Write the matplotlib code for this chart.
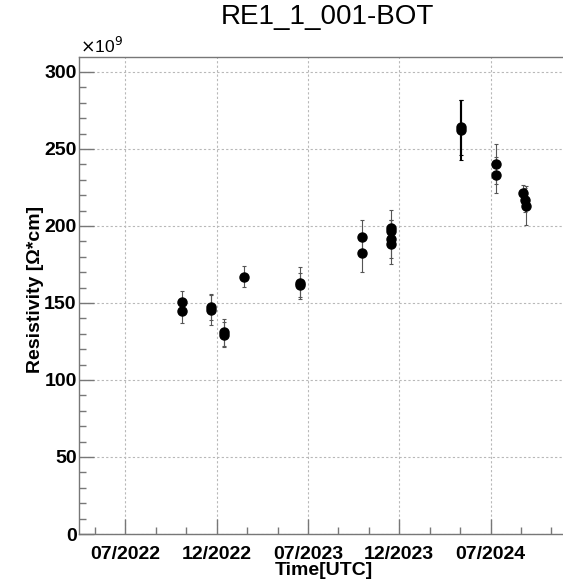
import matplotlib
matplotlib.use("Agg")
import matplotlib.pyplot as plt
import matplotlib.dates as mdates
import numpy as np
import pandas as pd

# measurement dates, resistivity [x1e9 Ohm*cm] and errors
dates = ["2022-10-24", "2022-10-24",
         "2022-12-19", "2022-12-19",
         "2023-01-15", "2023-01-15",
         "2023-02-24",
         "2023-06-16", "2023-06-16",
         "2023-10-18", "2023-10-18",
         "2023-12-14", "2023-12-14", "2023-12-14", "2023-12-14",
         "2024-05-02", "2024-05-02",
         "2024-07-11", "2024-07-11",
         "2024-09-03", "2024-09-07", "2024-09-09"]
resistivity = [150.8, 144.6,
               147.2, 145.5,
               131.0, 129.4,
               167.0,
               163.0, 161.6,
               193.0, 182.5,
               198.5, 197.0, 191.4, 188.3,
               264.0, 262.3,
               240.0, 233.1,
               221.2, 216.9, 213.2]
errors = [7.2, 7.6,
          8.2, 10.0,
          8.8, 8.2,
          6.8,
          10.2, 8.0,
          11.0, 12.5,
          12.0, 7.0, 12.4, 13.2,
          17.8, 19.4,
          13.0, 11.5,
          5.4, 8.0, 12.6]

# time axis: first labelled tick and half-year spacing
tick_start = "2022-07-02"
tick_step_days = 182.5
tick_labels = ["07/2022", "12/2022", "07/2023", "12/2023", "07/2024"]

plt.rcParams["font.family"] = ["Liberation Sans", "DejaVu Sans"]

fig = plt.figure(figsize=(5.63, 5.80), dpi=100)
ax = fig.add_axes([0.1412, 0.0793, 0.8588, 0.8219])

x = mdates.date2num(pd.to_datetime(dates))
y = np.array(resistivity)
err = np.array(errors)

big = err > 15
ax.errorbar(x[~big], y[~big], yerr=err[~big], fmt="o", color="black",
            ms=6.5, ecolor="#555555", elinewidth=0.8, capsize=1.5,
            capthick=0.8, zorder=3)
ax.errorbar(x[big], y[big], yerr=err[big], fmt="o", color="black",
            ms=6.5, ecolor="black", elinewidth=1.5, capsize=1.5,
            capthick=0.8, zorder=3)

# ticks every half year, 3 subdivisions
t0 = mdates.date2num(pd.Timestamp(tick_start))
major = [t0 + k * tick_step_days for k in range(len(tick_labels))]
minor = [t0 + (k / 3.0) * tick_step_days for k in range(-1, 15) if k % 3 != 0]
ax.set_xlim(t0 - 0.504 * tick_step_days, t0 + 4.794 * tick_step_days)
ax.set_xticks(major)
ax.set_xticklabels(tick_labels)
ax.set_xticks(minor, minor=True)

ax.set_ylim(0, 309.5)
ax.set_yticks(np.arange(0, 301, 50))
ax.set_yticks(np.arange(0, 310, 10), minor=True)

ax.grid(True, which="major", color="#b8b8b8", linestyle=(0, (2, 2)), linewidth=0.8)

ax.tick_params(axis="both", which="major", direction="in", length=11,
               width=1, color="#777777", labelsize=14)
ax.tick_params(axis="x", which="major", pad=8.5)
ax.tick_params(axis="y", which="major", pad=2)
ax.tick_params(axis="both", which="minor", direction="in", length=5,
               width=1, color="#777777")
for lab in ax.get_xticklabels() + ax.get_yticklabels():
    lab.set_fontweight("bold")

for side in ["left", "bottom", "top"]:
    ax.spines[side].set_color("#777777")
    ax.spines[side].set_linewidth(1)
ax.spines["right"].set_visible(False)

ax.set_xlabel("Time[UTC]", fontsize=14, fontweight="bold")
ax.xaxis.set_label_coords(0.506, -0.058)
ax.set_ylabel("Resistivity [\u03a9*cm]", fontsize=14, fontweight="bold")
ax.yaxis.set_label_coords(-0.074, 0.514)

fig.text(327 / 563, 1 - 17 / 580, "RE1_1_001-BOT", fontsize=20,
         ha="center", va="center")
fig.text(80 / 563, 1 - 46 / 580, r"$\times$10$^9$", fontsize=12.5,
         ha="left", va="center")

fig.savefig("out.png", dpi=100)
plt.close(fig)
